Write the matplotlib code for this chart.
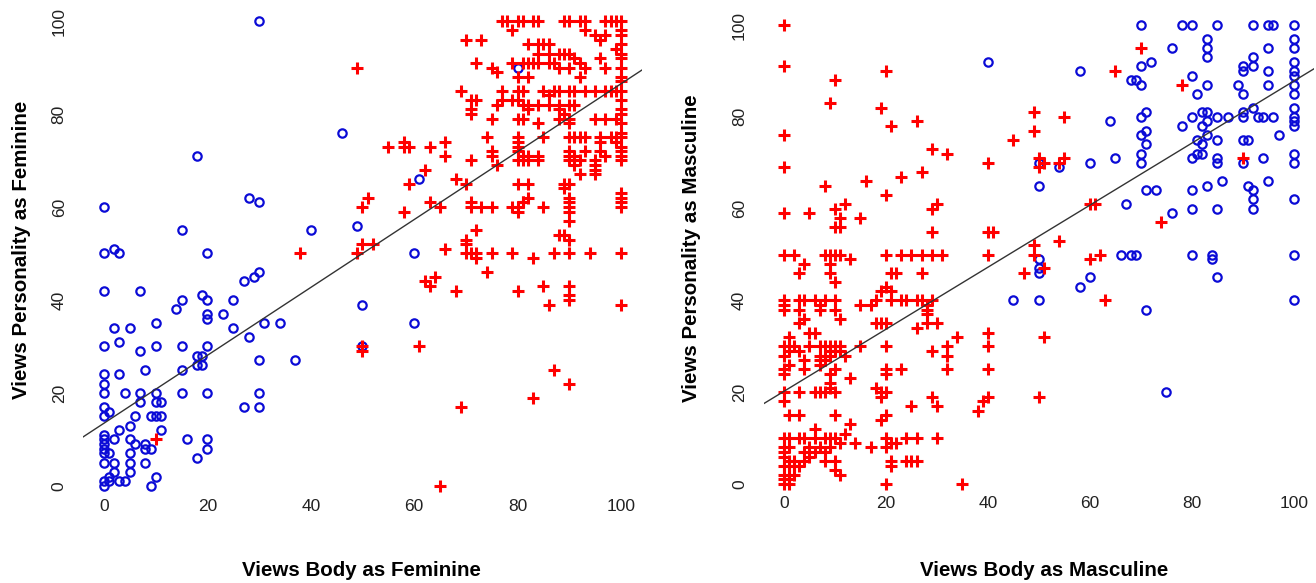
import numpy as np
import matplotlib.pyplot as plt

# left panel: (body, personality) pairs, feminine ratings
fem_circles = [
    (30, 100), (18, 71), (0, 60), (28, 62), (30, 61), (15, 55), (0, 50), (2, 51), (3, 50), (20, 50),
    (0, 42), (7, 42), (30, 46), (29, 45), (27, 44), (15, 40), (19, 41), (20, 40), (14, 38), (20, 37),
    (20, 36), (23, 37), (25, 40), (31, 35), (25, 34), (28, 32), (2, 34), (5, 34), (10, 35), (3, 31),
    (0, 30), (7, 29), (10, 30), (15, 30), (20, 30), (18, 28), (19, 28), (18, 26), (19, 26), (30, 27),
    (15, 25), (8, 25), (0, 24), (3, 24), (0, 22), (0, 20), (4, 20), (7, 20), (10, 20), (15, 20),
    (20, 20), (30, 20), (7, 18), (10, 18), (11, 18), (27, 17), (30, 17), (0, 17), (1, 16), (0, 15),
    (6, 15), (9, 15), (10, 15), (11, 15), (5, 13), (11, 12), (3, 12), (0, 11), (0, 10), (2, 10),
    (5, 10), (6, 9), (8, 9), (8, 8), (9, 8), (16, 10), (20, 10), (20, 8), (18, 6), (0, 9),
    (0, 8), (1, 7), (0, 7), (5, 7), (0, 5), (2, 5), (5, 5), (8, 5), (2, 3), (5, 3),
    (1, 2), (10, 2), (0, 1), (1, 1), (3, 1), (4, 1), (0, 0), (9, 0),
    (46, 76), (61, 66), (40, 55), (49, 56), (60, 50), (50, 39), (34, 35), (60, 35), (50, 30), (37, 27),
    (80, 90),
]
fem_crosses = [
    (49, 90), (55, 73), (58, 73), (59, 73), (58, 74), (63, 73), (66, 74), (66, 71), (62, 68), (59, 65),
    (51, 62), (50, 60), (58, 59), (63, 61), (65, 60), (50, 52), (52, 52), (38, 50), (49, 50), (66, 51),
    (62, 44), (64, 45), (63, 43), (50, 30), (50, 29), (61, 30), (65, 0), (10, 10),
    (70, 50), (71, 50), (72, 50), (72, 49), (75, 50), (79, 50), (83, 49), (87, 50), (90, 50), (94, 50),
    (100, 50), (74, 46), (68, 42), (80, 42), (85, 43), (90, 43), (90, 41), (90, 40), (86, 39), (100, 39),
    (87, 25), (90, 22), (83, 19), (69, 17),
    (77, 100), (78, 100), (80, 100), (81, 100), (83, 100), (84, 100), (89, 100), (90, 100), (92, 100),
    (93, 100), (97, 100), (98, 100), (99, 100), (100, 100),
    (79, 98), (93, 98), (95, 97), (96, 96), (97, 97), (70, 96), (73, 96),
    (100, 98), (100, 97), (100, 95), (100, 93), (100, 92), (100, 90), (100, 88), (100, 87), (100, 85),
    (100, 83), (100, 81), (100, 80), (100, 78), (100, 76), (100, 75), (100, 73), (100, 72), (100, 71),
    (100, 70), (100, 63), (100, 62), (100, 61), (100, 60),
    (82, 95), (84, 95), (85, 95), (86, 95), (84, 93), (86, 93), (88, 93), (89, 93), (90, 93), (91, 92),
    (96, 92), (99, 94), (72, 91), (75, 90), (76, 89), (81, 91), (82, 91), (83, 91), (84, 91), (86, 91),
    (87, 91), (80, 88), (82, 88), (88, 90), (90, 90), (92, 91), (93, 90), (97, 90), (92, 88), (79, 91),
    (69, 85), (77, 85), (80, 85), (81, 85), (85, 85), (86, 84), (87, 85), (88, 85), (90, 85), (91, 85),
    (93, 85), (95, 85), (97, 85), (98, 85), (99, 85),
    (71, 83), (72, 83), (77, 83), (79, 83), (80, 83), (81, 82), (82, 82), (84, 82), (86, 82), (88, 82),
    (90, 82), (91, 82), (76, 82), (82, 81), (88, 81), (89, 80),
    (71, 80), (71, 81), (75, 79), (80, 79), (81, 79), (88, 79), (90, 79), (95, 79), (97, 79), (99, 79),
    (84, 78), (90, 78),
    (74, 75), (80, 75), (85, 75), (90, 75), (91, 75), (92, 75), (93, 75), (96, 75), (98, 75), (99, 75),
    (80, 74), (80, 73), (96, 74), (99, 74),
    (75, 72), (80, 72), (81, 71), (82, 71), (84, 71), (90, 72), (90, 71), (91, 71), (93, 72), (96, 72),
    (97, 71), (71, 70), (75, 71), (80, 70), (81, 70), (82, 70), (84, 70), (90, 70), (91, 70), (92, 70),
    (95, 70), (76, 69), (91, 69), (95, 69), (92, 67), (95, 67), (95, 68),
    (68, 66), (70, 65), (80, 65), (82, 65), (89, 65), (89, 64), (90, 65), (82, 62), (81, 61), (90, 62),
    (90, 61), (71, 61), (71, 60), (73, 60), (75, 60), (79, 60), (80, 60), (80, 59), (81, 61), (85, 60),
    (90, 60), (90, 59), (72, 55), (90, 57), (88, 54), (89, 54), (70, 53), (70, 52), (90, 53),
]

# right panel: masculine ratings
masc_circles = [
    (40, 92), (58, 90), (64, 79), (50, 70), (54, 69), (60, 70), (65, 71), (50, 65), (67, 61), (66, 50),
    (50, 49), (50, 47), (50, 46), (60, 45), (58, 43), (45, 40), (50, 40),
    (70, 100), (78, 100), (80, 100), (85, 100), (92, 100), (95, 100), (96, 100), (100, 100),
    (76, 95), (83, 97), (83, 95), (83, 93), (95, 95), (100, 97), (100, 95), (70, 91), (72, 92), (92, 93),
    (90, 91), (90, 90), (92, 91), (95, 90), (100, 92), (100, 90), (100, 89),
    (68, 88), (69, 88), (70, 87), (80, 89), (83, 87), (81, 85), (89, 87), (90, 85), (95, 87), (100, 87),
    (100, 85), (70, 80), (71, 81), (80, 80), (82, 81), (83, 81), (85, 80), (87, 80), (90, 81), (90, 80),
    (92, 82), (93, 80), (94, 80), (96, 80), (100, 82), (100, 80), (100, 79), (100, 78),
    (78, 78), (83, 79), (82, 78), (70, 76), (71, 77), (83, 76), (97, 76), (71, 74), (81, 75), (82, 74),
    (85, 75), (90, 75), (91, 75), (70, 72), (70, 70), (81, 72), (82, 72), (80, 71), (85, 71), (85, 70),
    (90, 70), (94, 71), (100, 72), (100, 70),
    (86, 66), (71, 64), (73, 64), (80, 64), (83, 65), (91, 65), (92, 64), (95, 66), (92, 62), (92, 60),
    (100, 62), (80, 60), (85, 60), (76, 59),
    (68, 50), (69, 50), (80, 50), (84, 50), (84, 49), (100, 50), (85, 45), (100, 40), (71, 38), (75, 20),
]
masc_crosses = [
    (0, 100), (0, 91), (10, 88), (20, 90), (9, 83), (19, 82), (21, 78), (26, 79), (0, 76), (29, 73),
    (32, 72), (0, 69), (8, 65), (16, 66), (23, 67), (27, 68), (20, 63), (0, 59), (5, 59), (10, 60),
    (12, 61), (11, 58), (10, 56), (11, 56), (15, 58), (29, 60), (30, 61), (29, 55),
    (65, 90), (49, 81), (55, 80), (49, 77), (45, 75), (40, 70), (50, 71), (50, 69), (51, 70), (55, 71),
    (54, 70), (60, 61), (61, 61), (40, 55), (41, 55), (49, 52), (54, 53), (62, 50),
    (40, 50), (49, 50), (51, 47), (47, 46), (60, 49), (63, 40), (34, 32), (40, 33), (40, 30), (51, 32),
    (32, 30), (40, 25), (40, 19), (39, 18), (38, 16), (50, 19), (35, 0),
    (70, 95), (78, 87), (90, 71), (74, 57),
    (0, 50), (2, 50), (8, 50), (9, 50), (10, 50), (11, 50), (13, 49), (20, 50), (23, 50), (25, 50),
    (27, 50), (29, 50), (31, 50),
    (4, 48), (9, 48), (3, 46), (9, 46), (21, 46), (22, 46), (27, 46), (10, 44), (20, 43), (19, 42),
    (21, 42), (0, 40), (0, 39), (3, 40), (4, 40), (6, 40), (7, 39), (8, 40), (10, 40), (10, 38),
    (15, 39), (17, 39), (18, 40), (21, 40), (23, 40), (24, 40), (26, 40), (27, 40), (28, 39), (29, 40),
    (0, 38), (3, 38), (7, 38), (11, 36), (28, 38), (28, 37),
    (3, 35), (4, 36), (18, 35), (19, 35), (20, 35), (26, 34), (28, 35), (30, 35), (5, 33), (6, 33),
    (1, 32), (2, 30), (0, 30), (1, 30), (5, 30), (7, 30), (8, 30), (9, 30), (10, 30), (11, 30),
    (15, 30), (20, 30), (29, 29), (32, 28), (0, 28), (1, 29), (3, 29), (7, 28), (8, 28), (9, 29),
    (10, 29), (11, 29), (12, 28), (4, 27), (7, 27), (8, 27), (9, 28),
    (1, 26), (7, 26), (0, 24), (0, 25), (4, 25), (10, 25), (20, 25), (23, 25), (32, 25), (9, 24),
    (20, 24), (13, 23), (9, 22), (18, 21), (19, 20),
    (0, 20), (0, 18), (3, 20), (6, 20), (7, 20), (8, 20), (10, 20), (9, 21), (20, 20), (29, 19),
    (30, 17), (25, 17), (19, 19), (1, 15), (3, 15), (10, 15), (19, 14), (20, 15), (13, 13), (6, 12),
    (12, 11), (0, 10), (1, 10), (3, 10), (4, 10), (6, 10), (8, 10), (9, 10), (10, 10), (14, 9),
    (17, 8), (20, 10), (21, 9), (22, 9), (24, 10), (26, 10), (30, 10),
    (0, 8), (1, 8), (0, 7), (4, 7), (5, 8), (6, 7), (7, 8), (8, 7), (9, 8), (11, 9), (20, 8),
    (0, 6), (1, 5), (2, 5), (4, 5), (5, 6), (8, 5), (10, 5), (21, 5), (24, 5), (25, 5), (26, 5),
    (0, 4), (1, 4), (2, 4), (3, 4), (10, 3), (11, 2), (21, 4), (0, 2), (1, 2), (2, 2),
    (0, 1), (1, 1), (1, 0), (20, 0), (0, 0),
]

# fitted lines (intercept, slope)
fem_fit = (13.5, 0.73)
masc_fit = (20.2, 0.676)

ticks = [0, 20, 40, 60, 80, 100]
blue = '#0b0bd6'
red = '#ff0000'

plt.rcParams['font.family'] = ['Liberation Sans', 'DejaVu Sans']

fig = plt.figure(figsize=(13.16, 5.83), dpi=100)
ax1 = fig.add_axes([0.0633, 0.1425, 0.4243, 0.8454])
ax2 = fig.add_axes([0.5802, 0.1461, 0.4185, 0.8346])

panels = [
    (ax1, fem_circles, fem_crosses, fem_fit, "Views Body as Feminine", "Views Personality as Feminine",
     (0.499, -0.144), (-0.110, 0.507)),
    (ax2, masc_circles, masc_crosses, masc_fit, "Views Body as Masculine", "Views Personality as Masculine",
     (0.509, -0.150), (-0.130, 0.513)),
]

for ax, circ, cross, fit, xlab, ylab, xl_pos, yl_pos in panels:
    c = np.array(circ)
    r = np.array(cross)
    ax.plot(c[:, 0], c[:, 1], 'o', ms=6, mfc='none', mec=blue, mew=1.6, clip_on=False)
    ax.plot(r[:, 0], r[:, 1], '+', ms=9, mec=red, mew=2.2, clip_on=False)
    ax.axline((0, fit[0]), slope=fit[1], color='#333333', lw=1)
    ax.set_xlim(-4, 104)
    ax.set_ylim(-3, 103)
    ax.set_xticks(ticks)
    ax.set_yticks(ticks)
    for s in ax.spines.values():
        s.set_visible(False)
    ax.tick_params(axis='both', length=0, labelsize=12.5, labelcolor='#222222')
    ax.tick_params(axis='x', pad=-1)
    ax.tick_params(axis='y', pad=12)
    for lbl in ax.get_yticklabels():
        lbl.set_rotation(90)
        lbl.set_va('center')
    ax.set_xlabel(xlab, fontsize=14.8, fontweight='bold', va='center')
    ax.set_ylabel(ylab, fontsize=14.8, fontweight='bold', va='center')
    ax.xaxis.set_label_coords(*xl_pos)
    ax.yaxis.set_label_coords(*yl_pos)

fig.savefig('out.png', dpi=100)
